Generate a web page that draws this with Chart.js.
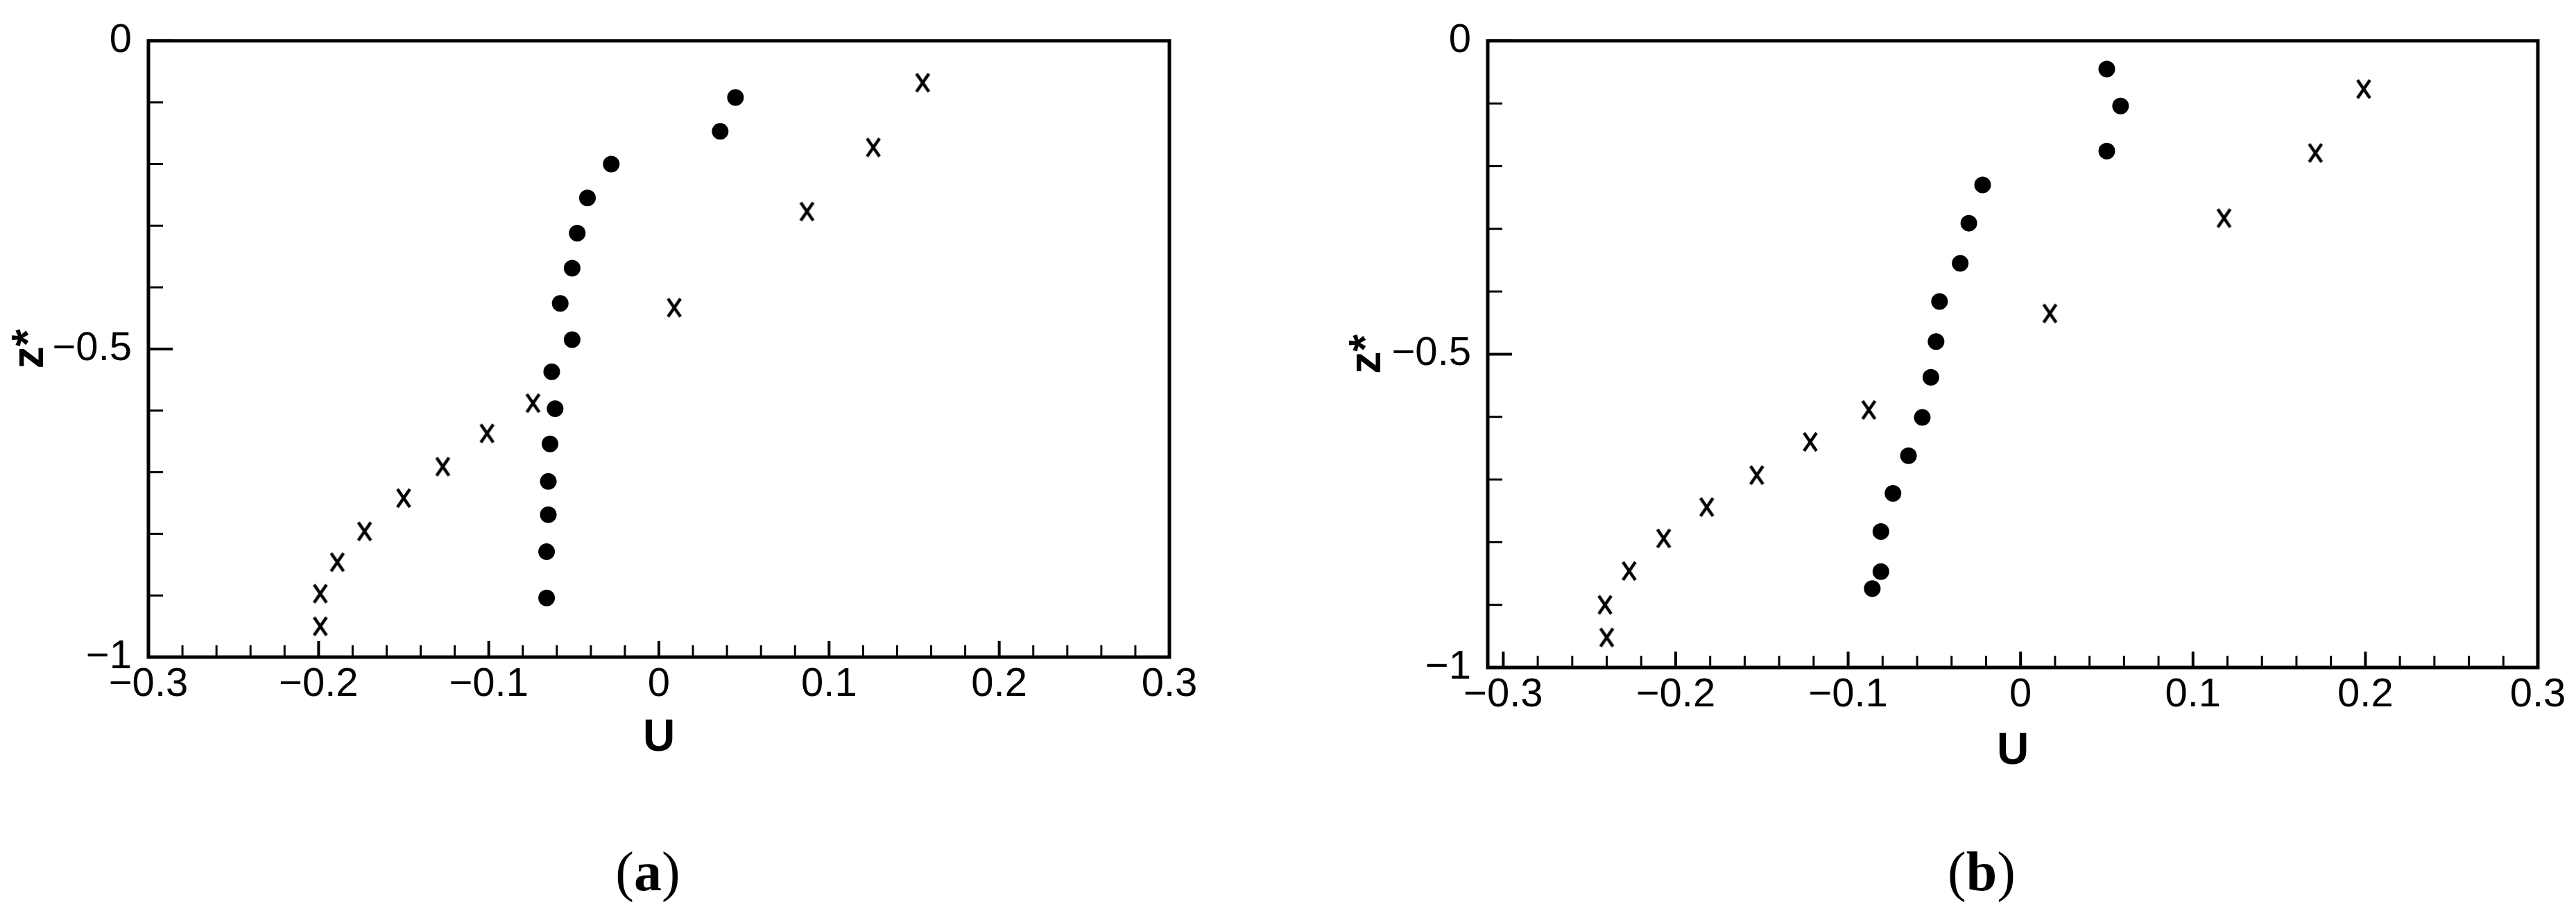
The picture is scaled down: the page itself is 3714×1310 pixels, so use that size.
<!DOCTYPE html>
<html lang="en">
  <head>
    <meta charset="UTF-8" />
    <title>U profiles (a) and (b)</title>
    <script src="https://cdn.jsdelivr.net/npm/chart.js"></script>
    <style>
      html, body { margin: 0; padding: 0; background: #fff; }
      #wrap { position: relative; width: 3714px; height: 1310px; overflow: hidden; background: #fff; }
      canvas { position: absolute; top: 0; }
      .caption {
        position: absolute;
        font-family: "Liberation Serif", "Times New Roman", serif;
        font-size: 80px;
        line-height: 1;
        color: #000;
        transform: translate(-50%, -50%);
        white-space: nowrap;
      }
    </style>
  </head>
  <body>
    <div id="wrap">
      <canvas id="chartA" width="1857" height="1310" style="left: 0"></canvas>
      <canvas id="chartB" width="1857" height="1310" style="left: 1857px"></canvas>
      <div class="caption" style="left: 934px; top: 1256px">(<b>a</b>)</div>
      <div class="caption" style="left: 2857px; top: 1256px">(<b>b</b>)</div>
    </div>

    <script>
      // tick labels
      const xTicks = [-0.3, -0.2, -0.1, 0, 0.1, 0.2, 0.3];
      const yTicks = [0, -0.5, -1];

      // panel (a): filled circles and crosses (U, z*)
      const aCircleU = [0.045, 0.036, -0.028, -0.042, -0.048, -0.051, -0.058, -0.051, -0.063, -0.061, -0.064, -0.065, -0.065, -0.066, -0.066];
      const aCircleZ = [-0.092, -0.147, -0.2, -0.255, -0.312, -0.369, -0.426, -0.485, -0.537, -0.597, -0.654, -0.715, -0.769, -0.829, -0.904];
      const aCrossU = [0.155, 0.126, 0.087, 0.009, -0.074, -0.101, -0.127, -0.15, -0.173, -0.189, -0.199, -0.199];
      const aCrossZ = [-0.068, -0.173, -0.277, -0.433, -0.588, -0.637, -0.691, -0.742, -0.796, -0.846, -0.897, -0.95];

      // panel (b)
      const bCircleU = [0.05, 0.058, 0.05, -0.022, -0.03, -0.035, -0.047, -0.049, -0.052, -0.057, -0.065, -0.074, -0.081, -0.081, -0.086];
      const bCircleZ = [-0.045, -0.104, -0.176, -0.23, -0.291, -0.355, -0.416, -0.48, -0.537, -0.601, -0.662, -0.722, -0.783, -0.847, -0.874];
      const bCrossU = [0.199, 0.171, 0.118, 0.017, -0.088, -0.122, -0.153, -0.182, -0.207, -0.227, -0.241, -0.24];
      const bCrossZ = [-0.077, -0.179, -0.283, -0.435, -0.589, -0.64, -0.693, -0.744, -0.794, -0.846, -0.9, -0.952];

      Chart.defaults.font.family = "'Liberation Sans', Arial, sans-serif";
      Chart.defaults.color = "#000";

      const tickFont = { family: "'Liberation Sans', Arial, sans-serif", size: 58 };
      const titleFont = { family: "'Liberation Sans', Arial, sans-serif", size: 64, weight: "bold" };

      // "x" shaped marker
      function makeCross() {
        const c = document.createElement("canvas");
        c.width = 26;
        c.height = 34;
        const g = c.getContext("2d");
        g.strokeStyle = "#000";
        g.lineWidth = 4.5;
        g.beginPath();
        g.moveTo(4, 4);
        g.lineTo(22, 30);
        g.moveTo(22, 4);
        g.lineTo(4, 30);
        g.stroke();
        return c;
      }
      const crossMark = makeCross();

      const fmt = (v) => (v === 0 ? "0" : String(Math.round(v * 10) / 10).replace("-", "\u2212"));

      const toPoints = (us, zs) => us.map((u, i) => ({ x: u, y: zs[i] }));

      // box frame + inward tick marks (Tecplot style)
      const frameTicks = {
        id: "frameTicks",
        beforeDatasetsDraw(chart) {
          const { ctx, chartArea: a, scales } = chart;
          const sx = scales.x;
          const sy = scales.y;
          ctx.save();
          ctx.strokeStyle = "#000";
          ctx.lineCap = "butt";
          // x: minor every 0.02, major every 0.1
          for (let i = -15; i <= 15; i++) {
            const px = sx.getPixelForValue(i * 0.02);
            const major = i % 5 === 0;
            ctx.lineWidth = major ? 4 : 3;
            ctx.beginPath();
            ctx.moveTo(px, a.bottom);
            ctx.lineTo(px, a.bottom - (major ? 23 : 17));
            ctx.stroke();
          }
          // y: minor every 0.1, major every 0.5
          for (let i = 0; i <= 10; i++) {
            const py = sy.getPixelForValue(-i * 0.1);
            const major = i % 5 === 0;
            ctx.lineWidth = major ? 4 : 3;
            ctx.beginPath();
            ctx.moveTo(a.left, py);
            ctx.lineTo(a.left + (major ? 35 : 21), py);
            ctx.stroke();
          }
          ctx.lineWidth = 5;
          ctx.strokeRect(a.left, a.top, a.right - a.left, a.bottom - a.top);
          ctx.restore();
        },
      };

      function makeChart(id, circleU, circleZ, crossU, crossZ, box) {
        return new Chart(document.getElementById(id), {
          type: "scatter",
          data: {
            datasets: [
              {
                data: toPoints(circleU, circleZ),
                pointStyle: "circle",
                pointRadius: 12,
                pointBackgroundColor: "#000",
                pointBorderWidth: 0,
              },
              {
                data: toPoints(crossU, crossZ),
                pointStyle: crossMark,
                pointRadius: 13,
              },
            ],
          },
          options: {
            responsive: false,
            animation: false,
            devicePixelRatio: 1,
            layout: {
              padding: { left: box.padLeft, top: box.padTop, right: box.padRight, bottom: box.padBottom },
            },
            plugins: {
              legend: { display: false },
              tooltip: { enabled: false },
            },
            scales: {
              x: {
                type: "linear",
                min: box.xMin,
                max: 0.3,
                grid: { display: false, drawTicks: false },
                border: { display: false },
                afterBuildTicks: (s) => {
                  s.ticks = xTicks.map((v) => ({ value: v }));
                },
                afterFit: (s) => {
                  s.height = box.xHeight;
                },
                ticks: { padding: 5, autoSkip: false, maxRotation: 0, color: "#000", font: tickFont, callback: fmt },
                title: { display: true, text: "U", color: "#000", font: titleFont, padding: 0 },
              },
              y: {
                type: "linear",
                min: -1,
                max: 0,
                grid: { display: false, drawTicks: false },
                border: { display: false },
                afterBuildTicks: (s) => {
                  s.ticks = yTicks.map((v) => ({ value: v }));
                },
                afterFit: (s) => {
                  s.width = box.yWidth;
                },
                ticks: { padding: 24, autoSkip: false, color: "#000", font: tickFont, callback: fmt },
                title: { display: true, text: "z*", color: "#000", font: titleFont, padding: { top: 6, bottom: 0 } },
              },
            },
          },
          plugins: [frameTicks],
        });
      }

      makeChart("chartA", aCircleU, aCircleZ, aCrossU, aCrossZ, {
        padLeft: 0, padTop: 50, padRight: 171, padBottom: 207, yWidth: 214, xHeight: 156, xMin: -0.3,
      });
      makeChart("chartB", bCircleU, bCircleZ, bCrossU, bCrossZ, {
        padLeft: 71, padTop: 41, padRight: 55, padBottom: 188, yWidth: 217, xHeight: 160, xMin: -0.309,
      });
    </script>
  </body>
</html>
